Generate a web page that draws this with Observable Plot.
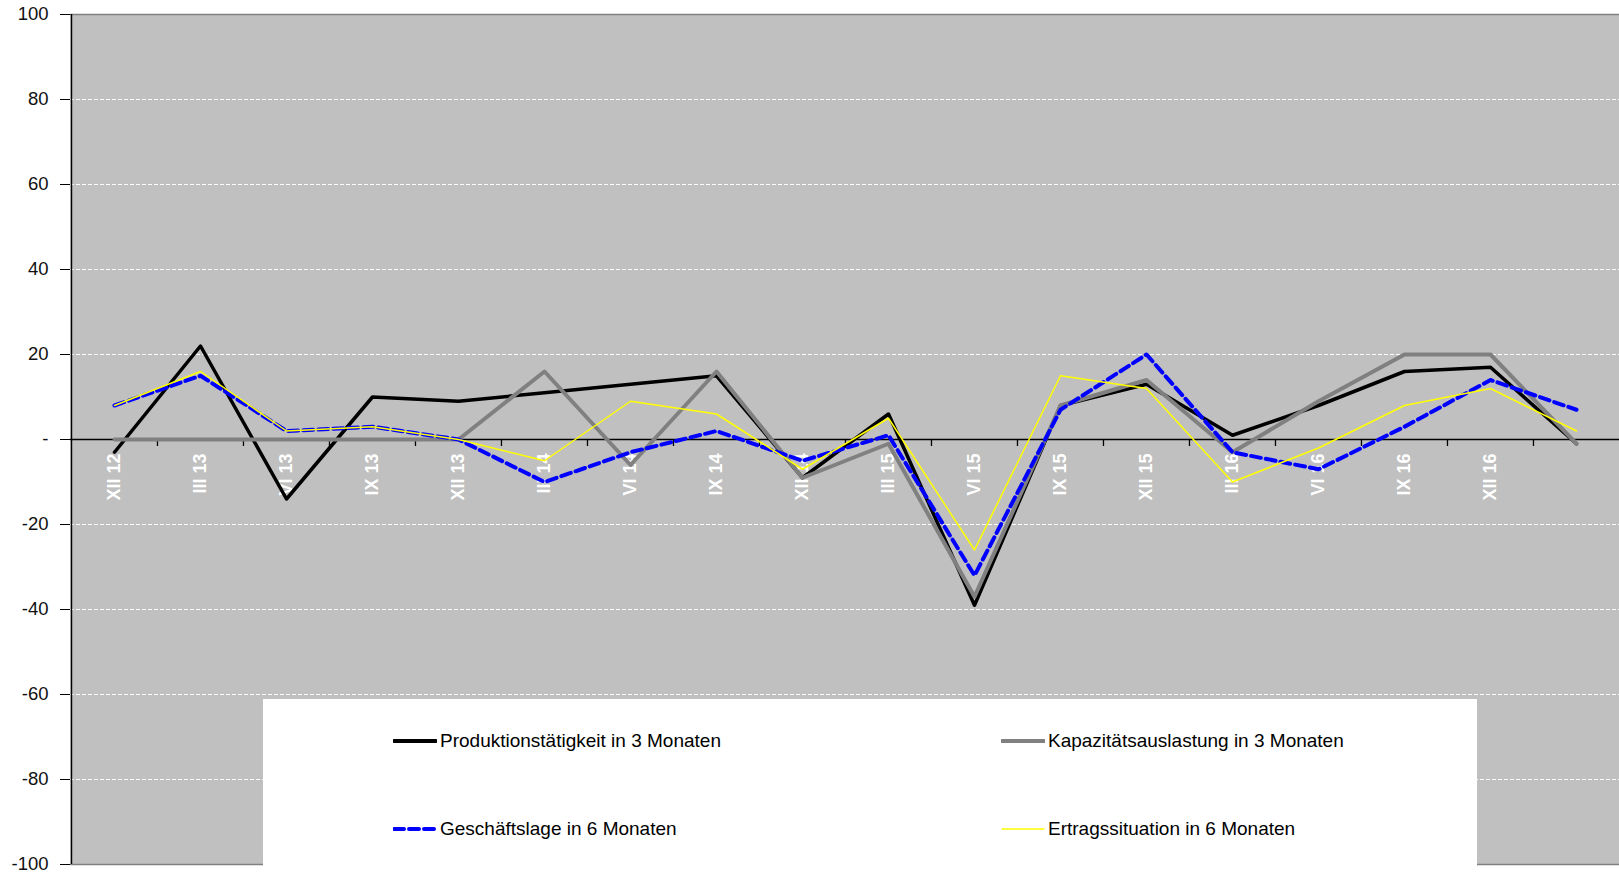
<!DOCTYPE html>
<html><head><meta charset="utf-8">
<script src="https://cdn.jsdelivr.net/npm/d3@7"></script>
<script src="https://cdn.jsdelivr.net/npm/@observablehq/plot@0.6"></script>
<style>
body{margin:0;background:#fff;font-family:Arial,"Liberation Sans",sans-serif;}
#wrap{position:relative;width:1619px;height:874px;overflow:hidden;}
#legend{position:absolute;left:263px;top:699px;width:1214px;height:170px;background:#fff;}
.item{position:absolute;display:flex;align-items:center;height:24px;font-size:19px;color:#000;white-space:nowrap;}
.item svg{margin-right:3px;}
</style></head><body><div id="wrap"></div>
<script>
const categories = ["XII 12","III 13","VI 13","IX 13","XII 13","III 14","VI 14","IX 14","XII 14","III 15","VI 15","IX 15","XII 15","III 16","VI 16","IX 16","XII 16","III 17"];
const tickLabels = ["XII 12","III 13","VI 13","IX 13","XII 13","III 14","VI 14","IX 14","XII 14","III 15","VI 15","IX 15","XII 15","III 16","VI 16","IX 16","XII 16",""];
const produktion = [-3,22,-14,10,9,11,13,15,-9,6,-39,8,13,1,8,16,17,-1];
const kapazitaet = [0,0,0,0,0,16,-6,16,-9,-1,-37,8,14,-3,9,20,20,-1];
const geschaeft  = [8,15,2,3,0,-10,-3,2,-5,1,-32,7,20,-3,-7,3,14,7];
const ertrag     = [8,16,2,3,0,-5,9,6,-7,5,-26,15,12,-10,-2,8,12,2];
const yTicks = [100,80,60,40,20,0,-20,-40,-60,-80,-100];
const gridTicks = [80,60,40,20,-20,-40,-60,-80];
const seriesNames = ["Produktionstätigkeit in 3 Monaten","Kapazitätsauslastung in 3 Monaten","Geschäftslage in 6 Monaten","Ertragssituation in 6 Monaten"];

const W = 1619, H = 874, mL = 70, mR = 0, mT = 14, mB = 10;
const step = (W - mL - mR) / categories.length;
const xOf = (d, i) => categories[i];

const chart = Plot.plot({
  width: W, height: H,
  marginLeft: mL, marginRight: mR, marginTop: mT, marginBottom: mB,
  style: {fontFamily: "Arial, 'Liberation Sans', sans-serif", background: "#fff", overflow: "visible"},
  x: {type: "point", domain: categories, padding: 0.5, axis: null},
  y: {domain: [-100, 100]},
  marks: [
    Plot.frame({fill: "#c0c0c0", stroke: null}),
    Plot.ruleY(gridTicks, {stroke: "#fff", strokeDasharray: "4,2", strokeWidth: 1}),
    Plot.ruleY([100, -100], {stroke: "#808080", strokeWidth: 1.5}),
    Plot.ruleY([0], {stroke: "#000", strokeWidth: 1.3}),
    Plot.ruleX(categories.slice(1), {x: d => d, y1: 0, y2: 0, dx: -step / 2, insetBottom: -7, stroke: "#000", strokeWidth: 1.3}),
    Plot.ruleX([categories[0]], {x: d => d, dx: -step / 2, stroke: "#000", strokeWidth: 1.5}),
    Plot.axisY(yTicks, {tickFormat: d => d === 0 ? "-" : String(d), tickSize: 10, tickPadding: 12, fontSize: 18.5, fill: "#111", stroke: "#000", label: null}),
    Plot.text(categories, {x: d => d, y: 0, text: (d, i) => tickLabels[i], rotate: -90, textAnchor: "end", lineAnchor: "middle", dy: 14, fill: "#fff", fontSize: 18, fontWeight: "bold"}),
    Plot.line(produktion, {x: xOf, y: d => d, stroke: "#000", strokeWidth: 3.5, strokeLinejoin: "round"}),
    Plot.line(kapazitaet, {x: xOf, y: d => d, stroke: "#808080", strokeWidth: 4, strokeLinejoin: "round"}),
    Plot.line(geschaeft, {x: xOf, y: d => d, stroke: "#0000ff", strokeWidth: 4, strokeDasharray: "10,5", strokeLinejoin: "round"}),
    Plot.line(ertrag, {x: xOf, y: d => d, stroke: "#ffff00", strokeWidth: 1.5, strokeLinejoin: "round"})
  ]
});

const wrap = document.getElementById("wrap");
wrap.appendChild(chart);

const legend = document.createElement("div");
legend.id = "legend";
wrap.appendChild(legend);
const legendItems = [
  {name: seriesNames[0], stroke: "#000", w: 4, dash: null, left: 393, cy: 741},
  {name: seriesNames[1], stroke: "#808080", w: 4, dash: null, left: 1001, cy: 741},
  {name: seriesNames[2], stroke: "#0000ff", w: 4, dash: "10,5", left: 393, cy: 829},
  {name: seriesNames[3], stroke: "#ffff00", w: 1.5, dash: null, left: 1001, cy: 829}
];
for (const it of legendItems) {
  const d = document.createElement("div");
  d.className = "item";
  d.style.left = (it.left - 263) + "px";
  d.style.top = (it.cy - 12 - 699) + "px";
  d.innerHTML = `<svg width="44" height="10"><line x1="1" y1="5" x2="43" y2="5" stroke="${it.stroke}" stroke-width="${it.w}" stroke-linecap="round" ${it.dash ? `stroke-dasharray="${it.dash}"` : ""}/></svg><span>${it.name}</span>`;
  legend.appendChild(d);
}
</script></body></html>
